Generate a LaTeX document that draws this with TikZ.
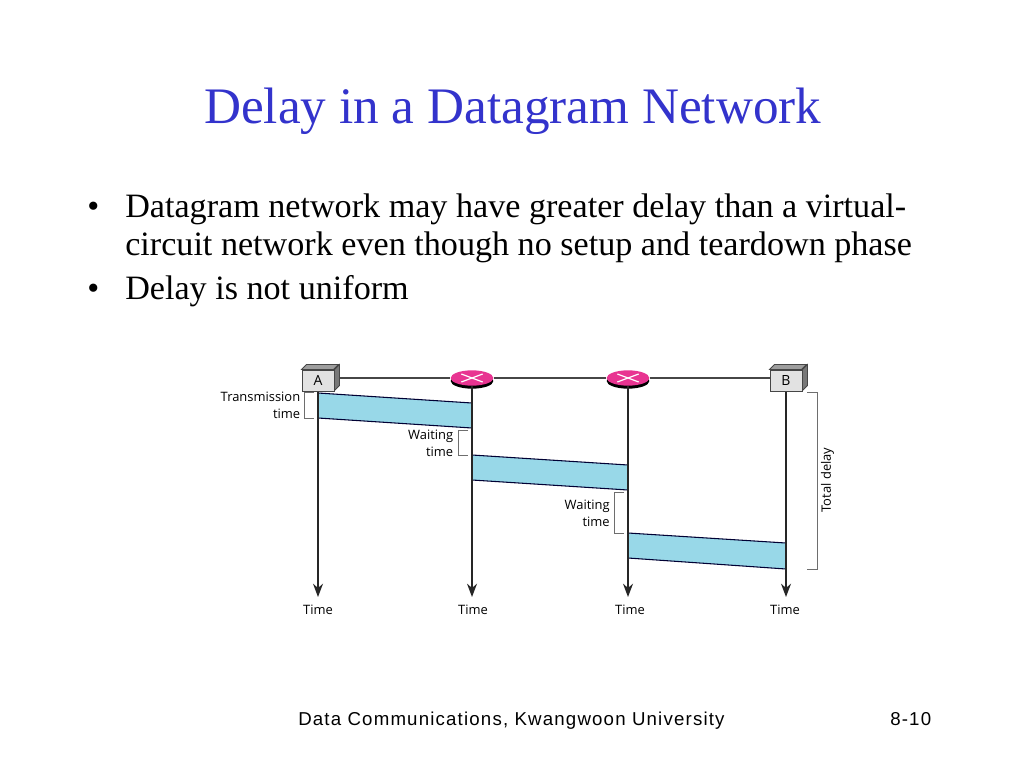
\documentclass[tikz,border=0pt]{standalone}
\usepackage{fontspec}
\setmainfont{Liberation Serif}
\newfontfamily\diagfont{Open Sans}
\newfontfamily\footfont[LetterSpace=6.3]{Liberation Sans}
\usetikzlibrary{shapes.geometric,arrows.meta}
\definecolor{titleblue}{RGB}{51,51,204}
\definecolor{pktblue}{RGB}{152,216,232}
\definecolor{routerpink}{RGB}{232,52,145}
\definecolor{boxgrey}{RGB}{226,226,226}
\definecolor{sidegrey}{RGB}{120,120,120}
\definecolor{linegrey}{RGB}{70,70,70}
\definecolor{brgrey}{RGB}{110,110,110}
\tikzset{
  x=0.75pt,y=-0.75pt,
  titletext/.style={anchor=base west,inner sep=0,text=titleblue,font=\fontsize{38.4pt}{42pt}\selectfont},
  bodytext/.style={anchor=base west,inner sep=0,font=\fontsize{25.6pt}{30pt}\selectfont},
  foot/.style={anchor=base west,inner sep=0,font=\footfont\fontsize{14pt}{17pt}\selectfont},
  lab/.style={inner sep=0,font=\diagfont\fontsize{9.7pt}{12pt}\selectfont},
  hostbox/.style={draw=linegrey,line width=0.7pt,fill=boxgrey,minimum width=24pt,minimum height=15.8pt,inner sep=0,font=\diagfont\fontsize{10.5pt}{11pt}\selectfont},
  router/.style={ellipse,fill=routerpink,minimum width=32pt,minimum height=11.5pt,inner sep=0},
  wire/.style={draw=linegrey,line width=0.9pt},
  timeline/.style={draw=black!85,line width=1.1pt,-{Stealth[length=10pt,width=7.5pt]}},
  packet/.style={fill=pktblue,draw=none},
  packetedge/.style={draw=black!80!blue,line width=0.8pt},
  bracketline/.style={draw=brgrey,line width=0.6pt},
}
\begin{document}
\begin{tikzpicture}
\useasboundingbox (0,0) rectangle (1024,768);
\fill[white] (0,0) rectangle (1024,768);
\node[titletext] (title) at (204,123) {Delay in a Datagram Network};
\node[bodytext] (b1) at (87,217) {•};
\node[bodytext] (l1) at (125,217) {Datagram network may have greater delay than a virtual-};
\node[bodytext] (l2) at (125,255) {circuit network even though no setup and teardown phase};
\node[bodytext] (b2) at (87,299) {•};
\node[bodytext] (l3) at (125,299) {Delay is not uniform};
\node[foot] (f1) at (298,725) {Data Communications, Kwangwoon University};
\node[foot] (f2) at (890,725) {8-10};

% hosts and routers
\node[hostbox] (A) at (318,380.5) {A};
\node[hostbox] (B) at (786,380.5) {B};
\coordinate (r1s) at (472,381);
\coordinate (r2s) at (628,381);
\node[router,fill=black] (r1shadow) at (r1s) {};
\node[router,fill=black] (r2shadow) at (r2s) {};
\node[router] (r1) at (472,378) {};
\node[router] (r2) at (628,378) {};
\foreach \n in {A,B}{
  \fill[boxgrey!70!black,draw=linegrey,line width=0.6pt] (\n.north west) -- ++(5,-5) -- ++(32,0) -- ++(-5,5) -- cycle;
  \fill[sidegrey,draw=linegrey,line width=0.6pt] (\n.north east) -- ++(5,-5) -- ++(0,21) -- ++(-5,5) -- cycle;
}
\foreach \n in {r1,r2}{
  \draw[white,line width=0.9pt] ([xshift=-8pt,yshift=-3pt]\n.center) -- ([xshift=8pt,yshift=3pt]\n.center);
  \draw[white,line width=0.9pt] ([xshift=-8pt,yshift=3pt]\n.center) -- ([xshift=8pt,yshift=-3pt]\n.center);
}
\draw[wire] (r1 -| A.east) ++(5,0) -- (r1.west);
\draw[wire] (r1.east) -- (r2.west);
\draw[wire] (r2.east) -- (r2 -| B.west);

% packets
\coordinate (p1a) at (318,393); \coordinate (p1b) at (472,403);
\coordinate (p1c) at (472,428); \coordinate (p1d) at (318,418);
\coordinate (p2a) at (472,455); \coordinate (p2b) at (628,465);
\coordinate (p2c) at (628,490); \coordinate (p2d) at (472,480);
\coordinate (p3a) at (628,533); \coordinate (p3b) at (786,543);
\coordinate (p3c) at (786,569); \coordinate (p3d) at (628,558);
\foreach \p in {p1,p2,p3}{
  \fill[packet] (\p a) -- (\p b) -- (\p c) -- (\p d) -- cycle;
  \draw[packetedge] (\p a) -- (\p b);
  \draw[packetedge] (\p d) -- (\p c);
}

% time lines
\coordinate (tA) at (318,597);
\coordinate (t1) at (472,597);
\coordinate (t2) at (628,597);
\coordinate (tB) at (786,597);
\draw[timeline] (A.south) -- (tA);
\draw[timeline] (r1s) ++(0,5) -- (t1);
\draw[timeline] (r2s) ++(0,5) -- (t2);
\draw[timeline] (B.south) -- (tB);

% brackets
\coordinate (ba1) at (314,392); \coordinate (ba2) at (304,392);
\coordinate (ba3) at (304,418); \coordinate (ba4) at (314,418);
\draw[bracketline] (ba1) -- (ba2) -- (ba3) -- (ba4);
\coordinate (bb1) at (468,430); \coordinate (bb2) at (458,430);
\coordinate (bb3) at (458,455); \coordinate (bb4) at (468,455);
\draw[bracketline] (bb1) -- (bb2) -- (bb3) -- (bb4);
\coordinate (bc1) at (624,492); \coordinate (bc2) at (614,492);
\coordinate (bc3) at (614,533); \coordinate (bc4) at (624,533);
\draw[bracketline] (bc1) -- (bc2) -- (bc3) -- (bc4);
\coordinate (bd1) at (807,392); \coordinate (bd2) at (817,392);
\coordinate (bd3) at (817,569); \coordinate (bd4) at (807,569);
\draw[bracketline] (bd1) -- (bd2) -- (bd3) -- (bd4);

% labels
\node[lab,anchor=base east] (lt1) at (300.5,401) {Transmission};
\node[lab,anchor=base east] (lt2) at (300.5,418) {time};
\node[lab,anchor=base east] (lw1) at (453.5,439) {Waiting};
\node[lab,anchor=base east] (lw2) at (453.5,456) {time};
\node[lab,anchor=base east] (lw3) at (610,509) {Waiting};
\node[lab,anchor=base east] (lw4) at (610,526) {time};
\node[lab,rotate=90] (ltd) at (827.5,480) {Total delay};
\node[lab] (ta) at (318,610) {Time};
\node[lab] (tb) at (473,610) {Time};
\node[lab] (tc) at (630,610) {Time};
\node[lab] (td) at (785,610) {Time};
\end{tikzpicture}
\end{document}
